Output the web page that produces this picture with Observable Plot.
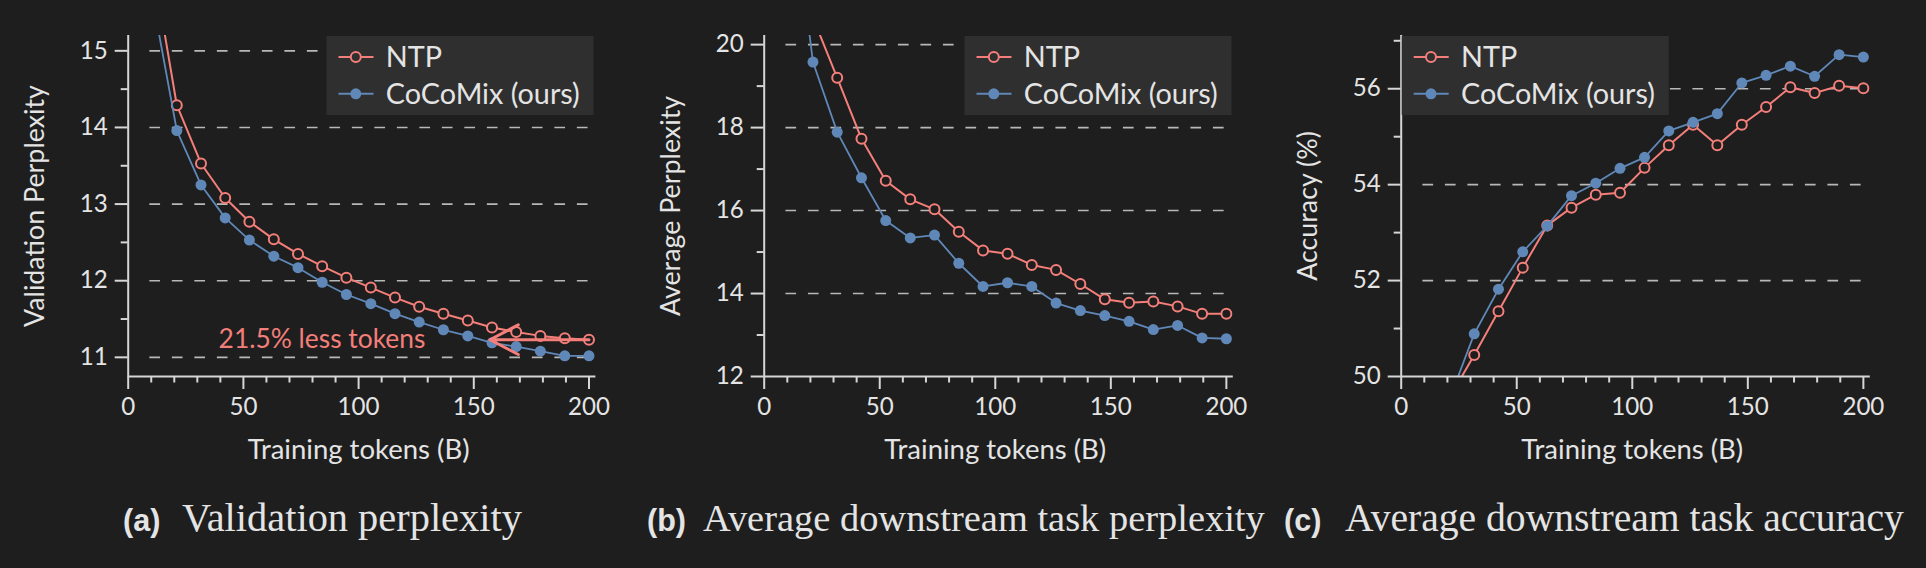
<!DOCTYPE html>
<html><head><meta charset="utf-8">
<script src="https://cdn.jsdelivr.net/npm/d3@7"></script>
<script src="https://cdn.jsdelivr.net/npm/@observablehq/plot@0.6"></script>
<style>
html,body{margin:0;padding:0;background:#1e1e1e;}
#root{position:relative;width:1926px;height:568px;overflow:hidden;background:#1e1e1e;}
.panel{position:absolute;top:0;}
#overlay{position:absolute;left:0;top:0;}
</style></head><body><div id="root"></div>
<script>
// ---- data ----
const tokens = [10.5, 21.1, 31.6, 42.1, 52.6, 63.2, 73.7, 84.2, 94.7, 105.3, 115.8, 126.3, 136.8, 147.4, 157.9, 168.4, 178.9, 189.5, 200];
const valNTP  = [16.17, 14.29, 13.53, 13.08, 12.77, 12.54, 12.35, 12.19, 12.04, 11.91, 11.78, 11.66, 11.57, 11.48, 11.39, 11.33, 11.28, 11.25, 11.23];
const valCoCo = [15.69, 13.96, 13.25, 12.82, 12.53, 12.32, 12.17, 11.98, 11.82, 11.70, 11.57, 11.46, 11.36, 11.28, 11.19, 11.14, 11.08, 11.02, 11.02];
const pplNTP  = [null, 20.65, 19.20, 17.73, 16.72, 16.27, 16.03, 15.49, 15.04, 14.96, 14.69, 14.57, 14.23, 13.86, 13.78, 13.81, 13.69, 13.51, 13.51];
const pplCoCo = [24.3, 19.58, 17.89, 16.79, 15.76, 15.34, 15.41, 14.73, 14.17, 14.26, 14.17, 13.77, 13.59, 13.47, 13.33, 13.13, 13.23, 12.93, 12.91];
const accNTP  = [null, 49.57, 50.45, 51.36, 52.27, 53.15, 53.52, 53.79, 53.83, 54.35, 54.82, 55.25, 54.82, 55.25, 55.62, 56.03, 55.91, 56.06, 56.01];
const accCoCo = [null, 49.55, 50.89, 51.82, 52.60, 53.14, 53.77, 54.03, 54.34, 54.57, 55.12, 55.30, 55.48, 56.12, 56.28, 56.47, 56.26, 56.71, 56.66];

const seriesNames = ["NTP", "CoCoMix (ours)"];
const xMajor = [0, 50, 100, 150, 200];
const xMinor = [10, 20, 30, 40, 60, 70, 80, 90, 110, 120, 130, 140, 160, 170, 180, 190];
const valMajor = [11, 12, 13, 14, 15], valMinor = [11.5, 12.5, 13.5, 14.5], valGrid = [11, 12, 13, 14, 15];
const pplMajor = [12, 14, 16, 18, 20], pplMinor = [13, 15, 17, 19], pplGrid = [14, 16, 18, 20];
const accMajor = [50, 52, 54, 56], accMinor = [51, 53, 55, 57], accGrid = [52, 54, 56];
const xLabel = "Training tokens (B)";
const yLabels = ["Validation Perplexity", "Average Perplexity", "Accuracy (%)"];
const captionTags = ["(a)", "(b)", "(c)"];
const captionTexts = ["Validation perplexity", "Average downstream task perplexity", "Average downstream task accuracy"];
const annotation = {x1: 200, x2: 157, y: 11.23, text: "21.5% less tokens", textX: 129};

// ---- style ----
const BG = "#1e1e1e", RED = "#f47f7a", BLUE = "#5f88b8", AX = "#d6d6d6", GRID = "#b8b8b8", TXT = "#e4e4e4", LEG = "#2f2f2f";
const SANS = "Lato";
const ctx = document.createElement("canvas").getContext("2d");
function fit(text, family, weight, target) {
  ctx.font = `${weight} 100px ${family}`;
  return 100 * target / ctx.measureText(text).width;
}
const tickFs = fit("200", SANS, "normal", 42);
const labelFs = fit(xLabel, SANS, "normal", 222);
const ylabFs = fit(yLabels[0], SANS, "normal", 242);
const legFs = fit(seriesNames[1], SANS, "normal", 194);
const annFs = fit(annotation.text, SANS, "normal", 207);
const capWidths = [340, 562, 559];
const capFs = captionTexts.map((t, i) => fit(t, "Liberation Serif", "normal", capWidths[i]));
const tagFs = fit(captionTags[1], "Liberation Sans", "bold", 39);

const root = d3.select("#root");

function panel(cfg) {
  const ntp = tokens.map((t, i) => ({x: t, y: cfg.ntp[i]})).filter(d => d.y != null);
  const coco = tokens.map((t, i) => ({x: t, y: cfg.coco[i]})).filter(d => d.y != null);
  const marks = [
    Plot.ruleY(cfg.grid, {x1: 9.4, x2: 200, stroke: GRID, strokeWidth: 1.6, strokeDasharray: "10.7 11.8"}),
    Plot.line(ntp, {x: "x", y: "y", stroke: RED, strokeWidth: 2, clip: true}),
    Plot.dot(ntp, {x: "x", y: "y", r: 5, stroke: RED, strokeWidth: 2, fill: BG, clip: true}),
    Plot.line(coco, {x: "x", y: "y", stroke: BLUE, strokeWidth: 1.8, clip: true}),
    Plot.dot(coco, {x: "x", y: "y", r: 5.5, fill: BLUE, clip: true}),
    ...(cfg.extra || []),
    Plot.ruleX([0], {stroke: AX, strokeWidth: 2}),
    Plot.ruleY([cfg.yDomain[0]], {stroke: AX, strokeWidth: 2}),
    Plot.axisX(xMajor, {tickSize: 13, tickPadding: 8, tickFormat: d => String(d), label: null, stroke: AX, strokeWidth: 2, fill: TXT, fontSize: tickFs}),
    Plot.axisX(xMinor, {tickSize: 6.5, tickFormat: () => "", label: null, stroke: AX, strokeWidth: 2}),
    Plot.axisY(cfg.major, {tickSize: 13, tickPadding: 7.5, tickFormat: d => String(d), label: null, stroke: AX, strokeWidth: 2, fill: TXT, fontSize: tickFs}),
    Plot.axisY(cfg.minor, {tickSize: 7, tickFormat: () => "", label: null, stroke: AX, strokeWidth: 2}),
    Plot.text([{x: 100, t: xLabel}], {x: "x", text: "t", frameAnchor: "bottom", dy: 73.5, lineAnchor: "middle", fill: TXT, fontSize: labelFs}),
    Plot.text([cfg.ylabel], {frameAnchor: "left", dx: -93, rotate: -90, textAnchor: "middle", lineAnchor: "middle", fill: TXT, fontSize: ylabFs})
  ];
  const svg = Plot.plot({
    width: 642, height: 470,
    marginLeft: cfg.mL, marginRight: cfg.mR, marginTop: 35, marginBottom: 94,
    x: {domain: [0, 203]},
    y: {domain: cfg.yDomain},
    style: {background: "transparent", color: TXT, fontFamily: SANS, fontSize: tickFs + "px", overflow: "visible"},
    marks
  });
  const wrap = root.append("div").attr("class", "panel").style("left", cfg.left + "px");
  wrap.node().appendChild(svg);
}

panel({left: 0, mL: 127.7, mR: 46.6, yDomain: [10.75, 15.2], ntp: valNTP, coco: valCoCo,
  major: valMajor, minor: valMinor, grid: valGrid, ylabel: yLabels[0],
  extra: [
    Plot.arrow([annotation], {x1: "x1", y1: "y", x2: "x2", y2: "y", stroke: RED, strokeWidth: 3, headLength: 16, headAngle: 55}),
    Plot.text([annotation], {x: "textX", y: "y", text: "text", textAnchor: "end", lineAnchor: "middle", fill: RED, fontSize: annFs})
  ]});
panel({left: 642, mL: 121.7, mR: 51.2, yDomain: [12, 20.22], ntp: pplNTP, coco: pplCoCo,
  major: pplMajor, minor: pplMinor, grid: pplGrid, ylabel: yLabels[1]});
panel({left: 1284, mL: 116.7, mR: 56.2, yDomain: [50, 57.11], ntp: accNTP, coco: accCoCo,
  major: accMajor, minor: accMinor, grid: accGrid, ylabel: yLabels[2]});

// ---- overlay: legends & captions ----
const ov = root.append("svg").attr("id", "overlay").attr("width", 1926).attr("height", 568);
const legendLefts = [326.5, 964.5, 1401.7];
const capH = 0.7165 * legFs;
legendLefts.forEach(L => {
  const g = ov.append("g").attr("transform", `translate(${L},36)`);
  g.append("rect").attr("width", 267).attr("height", 79).attr("fill", LEG);
  [21, 57.8].forEach((cy, i) => {
    const col = i === 0 ? RED : BLUE;
    g.append("line").attr("x1", 12).attr("x2", 47).attr("y1", cy).attr("y2", cy).attr("stroke", col).attr("stroke-width", 2);
    g.append("circle").attr("cx", 29.3).attr("cy", cy).attr("r", i === 0 ? 5 : 5.5)
      .attr("fill", i === 0 ? LEG : BLUE).attr("stroke", i === 0 ? RED : "none").attr("stroke-width", 2);
    g.append("text").attr("x", 59.3).attr("y", cy + capH / 2).attr("fill", TXT)
      .style("font-family", SANS).style("font-size", legFs + "px").text(seriesNames[i]);
  });
});
const tagX = [123, 647, 1284], capX = [182, 703, 1345];
captionTags.forEach((t, i) => {
  ov.append("text").attr("x", tagX[i]).attr("y", 531).attr("fill", TXT)
    .style("font-family", "Liberation Sans").style("font-weight", "bold").style("font-size", tagFs + "px").text(t);
  ov.append("text").attr("x", capX[i]).attr("y", 531).attr("fill", TXT)
    .style("font-family", "Liberation Serif").style("font-size", capFs[i] + "px").text(captionTexts[i]);
});
</script>
</body></html>
